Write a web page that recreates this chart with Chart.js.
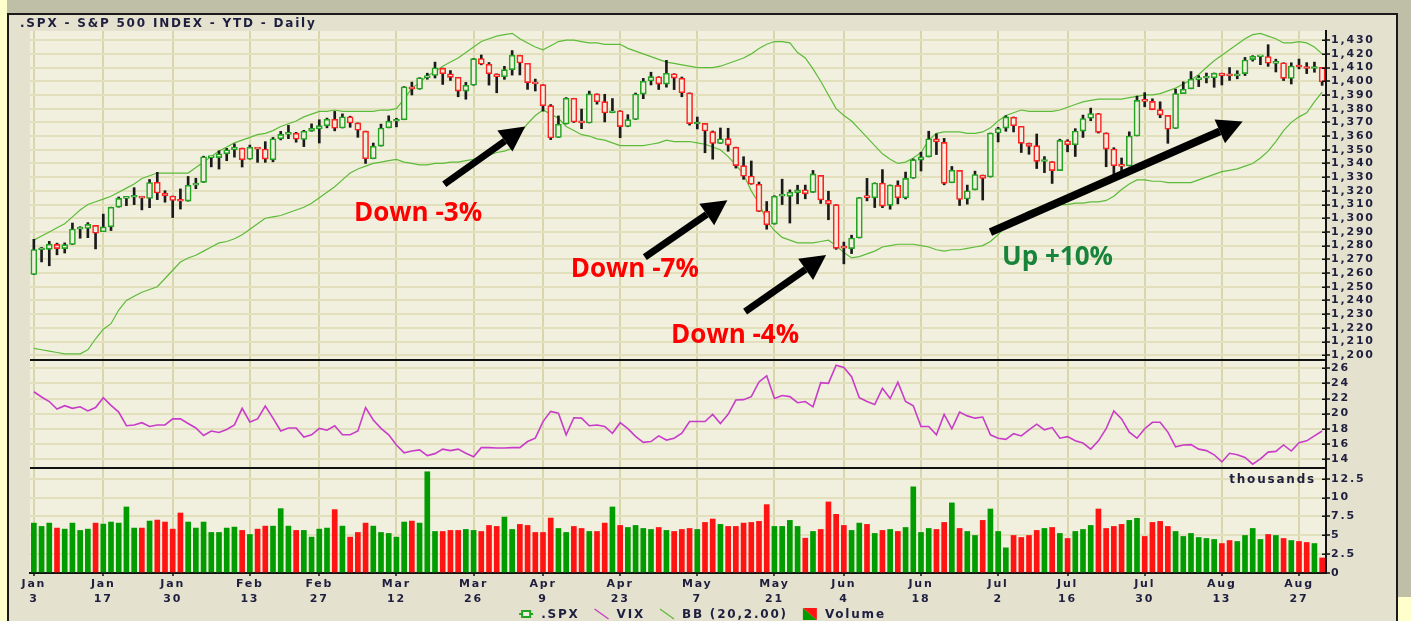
<!DOCTYPE html>
<html>
<head>
<meta charset="utf-8">
<script src="https://cdn.jsdelivr.net/npm/chart.js@4.4.1/dist/chart.umd.min.js"></script>
<style>
  html, body { margin: 0; padding: 0; }
  body { width: 1411px; height: 621px; background: #ffffcc; position: relative; overflow: hidden; }
  #top { position: absolute; left: 7px; top: 0; width: 1404px; height: 597px; background: #bfbea6; }
  #frame { position: absolute; left: 7px; top: 13px; width: 1387px; height: 606px; background: #e4e2cf;
           border: 2px solid #1a1a1a; border-bottom: none; }
  #wrap { position: absolute; left: 0; top: 0; width: 1387px; height: 606px; }
</style>
</head>
<body>
<div id="top"></div>
<div id="frame"><div id="wrap"><canvas id="spx"></canvas></div></div>
<script>
// trading days, Jan 3 - Aug 30
const dates = ['Jan 3','Jan 4','Jan 5','Jan 6','Jan 9','Jan 10','Jan 11','Jan 12','Jan 13','Jan 17','Jan 18','Jan 19','Jan 20','Jan 23','Jan 24','Jan 25','Jan 26','Jan 27','Jan 30','Jan 31',
'Feb 1','Feb 2','Feb 3','Feb 6','Feb 7','Feb 8','Feb 9','Feb 10','Feb 13','Feb 14','Feb 15','Feb 16','Feb 17','Feb 21','Feb 22','Feb 23','Feb 24','Feb 27','Feb 28','Feb 29',
'Mar 1','Mar 2','Mar 5','Mar 6','Mar 7','Mar 8','Mar 9','Mar 12','Mar 13','Mar 14','Mar 15','Mar 16','Mar 19','Mar 20','Mar 21','Mar 22','Mar 23','Mar 26','Mar 27','Mar 28','Mar 29','Mar 30',
'Apr 2','Apr 3','Apr 4','Apr 5','Apr 9','Apr 10','Apr 11','Apr 12','Apr 13','Apr 16','Apr 17','Apr 18','Apr 19','Apr 20','Apr 23','Apr 24','Apr 25','Apr 26','Apr 27','Apr 30',
'May 1','May 2','May 3','May 4','May 7','May 8','May 9','May 10','May 11','May 14','May 15','May 16','May 17','May 18','May 21','May 22','May 23','May 24','May 25','May 29','May 30','May 31',
'Jun 1','Jun 4','Jun 5','Jun 6','Jun 7','Jun 8','Jun 11','Jun 12','Jun 13','Jun 14','Jun 15','Jun 18','Jun 19','Jun 20','Jun 21','Jun 22','Jun 25','Jun 26','Jun 27','Jun 28','Jun 29',
'Jul 2','Jul 3','Jul 5','Jul 6','Jul 9','Jul 10','Jul 11','Jul 12','Jul 13','Jul 16','Jul 17','Jul 18','Jul 19','Jul 20','Jul 23','Jul 24','Jul 25','Jul 26','Jul 27','Jul 30','Jul 31',
'Aug 1','Aug 2','Aug 3','Aug 6','Aug 7','Aug 8','Aug 9','Aug 10','Aug 13','Aug 14','Aug 15','Aug 16','Aug 17','Aug 20','Aug 21','Aug 22','Aug 23','Aug 24','Aug 27','Aug 28','Aug 29','Aug 30'];

const tickDates = ['Jan 3','Jan 17','Jan 30','Feb 13','Feb 27','Mar 12','Mar 26','Apr 9','Apr 23','May 7','May 21','Jun 4','Jun 18','Jul 2','Jul 16','Jul 30','Aug 13','Aug 27'];

const opens = [1258.9,1277.0,1277.3,1280.9,1277.8,1280.8,1292.0,1292.5,1294.8,1290.2,
1293.7,1308.1,1314.5,1315.3,1316.0,1314.4,1326.3,1318.3,1316.2,1313.5,
1312.5,1324.2,1326.2,1344.3,1344.3,1347.0,1350.0,1351.2,1343.1,1351.3,
1350.5,1342.6,1358.1,1361.2,1362.1,1357.5,1363.5,1365.2,1367.6,1372.2,
1365.9,1374.1,1369.6,1363.6,1343.4,1352.7,1366.0,1370.8,1371.9,1396.0,
1394.2,1402.6,1404.2,1409.6,1405.5,1402.9,1392.8,1397.1,1416.6,1412.5,
1405.4,1403.3,1408.5,1419.0,1413.1,1398.8,1397.5,1382.2,1359.0,1368.8,
1387.6,1370.3,1369.6,1390.8,1385.1,1377.0,1378.5,1367.0,1372.1,1390.6,
1400.2,1403.3,1397.9,1405.5,1402.3,1391.5,1368.8,1369.2,1363.2,1354.6,
1358.1,1351.9,1338.4,1330.8,1324.8,1305.1,1295.7,1316.1,1316.0,1318.7,
1320.8,1318.9,1331.3,1313.1,1309.9,1278.3,1277.8,1285.6,1316.2,1315.0,
1325.7,1309.4,1324.0,1314.9,1329.2,1342.4,1344.8,1358.0,1355.4,1325.9,
1334.9,1314.1,1320.7,1331.5,1330.1,1362.3,1365.8,1373.7,1367.1,1354.7,
1353.0,1341.4,1341.3,1334.8,1356.5,1353.7,1363.6,1373.0,1376.5,1362.3,
1350.5,1338.4,1338.2,1360.1,1385.9,1385.3,1379.3,1375.1,1365.5,1391.0,
1394.5,1401.2,1402.3,1402.6,1405.9,1404.4,1403.9,1405.6,1415.8,1417.9,
1418.1,1413.1,1413.5,1402.0,1411.1,1410.4,1409.3,1410.1];

const highs = [1284.6,1278.7,1283.1,1281.8,1282.0,1296.5,1293.8,1296.8,1294.8,1303.0,
1308.1,1315.5,1315.4,1322.3,1316.0,1328.3,1333.5,1320.1,1316.2,1321.4,
1330.5,1329.2,1345.3,1344.4,1349.2,1351.0,1354.3,1351.2,1353.4,1351.3,
1355.9,1359.0,1363.4,1367.8,1362.7,1364.2,1368.9,1371.9,1373.1,1378.0,
1376.2,1374.5,1369.6,1363.6,1354.9,1368.7,1374.8,1373.0,1396.1,1399.4,
1402.6,1405.9,1414.0,1409.6,1407.8,1402.9,1399.2,1416.6,1419.2,1413.7,
1405.4,1410.9,1422.4,1419.0,1413.1,1401.6,1397.5,1383.0,1374.7,1388.1,
1387.6,1379.7,1392.8,1390.8,1390.5,1387.4,1378.5,1375.6,1391.4,1402.1,
1406.6,1403.3,1415.3,1405.5,1403.1,1391.5,1373.9,1369.2,1363.7,1365.9,
1365.7,1351.9,1344.9,1341.8,1326.4,1312.2,1316.4,1328.5,1320.7,1324.1,
1324.2,1334.9,1331.3,1319.7,1309.9,1282.6,1287.6,1315.1,1329.1,1325.8,
1335.5,1324.3,1327.3,1333.7,1343.3,1348.2,1363.5,1361.6,1358.3,1337.8,
1334.9,1324.2,1334.4,1331.5,1362.2,1366.4,1374.8,1373.9,1367.1,1354.9,
1361.5,1345.0,1341.3,1357.7,1357.3,1365.4,1375.3,1380.4,1376.5,1362.3,
1351.5,1344.0,1363.1,1389.2,1391.7,1387.2,1385.0,1375.1,1394.2,1399.6,
1407.1,1404.1,1406.0,1406.0,1405.9,1410.0,1407.7,1417.4,1418.7,1418.1,
1426.7,1416.1,1413.5,1413.5,1416.2,1413.6,1414.0,1410.1];

const lows = [1258.9,1268.1,1265.3,1273.3,1274.6,1280.8,1285.4,1285.8,1277.6,1290.2,
1291.0,1308.1,1309.2,1309.9,1306.1,1307.7,1313.6,1311.7,1300.5,1306.7,
1312.5,1321.6,1326.2,1337.5,1335.9,1342.0,1344.6,1337.4,1343.1,1340.8,
1340.8,1341.2,1357.2,1358.1,1355.5,1352.3,1363.5,1354.9,1366.0,1363.8,
1365.9,1366.4,1359.1,1340.0,1343.4,1352.7,1366.0,1366.7,1371.9,1390.0,
1394.2,1401.5,1402.4,1397.7,1400.6,1388.7,1386.9,1397.1,1412.0,1397.2,
1391.6,1401.4,1404.5,1404.6,1394.1,1392.9,1378.2,1357.4,1359.0,1368.8,
1369.9,1365.4,1369.6,1383.3,1370.3,1377.0,1358.8,1366.8,1372.1,1387.3,
1397.3,1394.0,1395.7,1393.9,1388.7,1368.0,1365.2,1347.8,1343.1,1354.6,
1348.9,1336.6,1328.4,1324.8,1304.9,1292.0,1295.7,1310.0,1296.5,1310.5,
1314.2,1318.9,1310.8,1298.9,1277.3,1266.7,1274.2,1285.6,1312.7,1307.8,
1307.7,1306.6,1310.5,1314.1,1329.2,1334.5,1344.8,1346.5,1324.4,1325.9,
1309.3,1310.3,1320.7,1313.3,1330.1,1355.7,1363.5,1363.0,1348.0,1346.7,
1336.3,1333.3,1325.4,1334.8,1348.5,1345.1,1359.0,1371.2,1362.2,1337.6,
1329.2,1331.5,1338.2,1360.1,1381.4,1379.2,1373.4,1354.7,1365.5,1391.0,
1394.5,1396.1,1398.8,1395.6,1397.3,1400.6,1401.8,1404.2,1414.7,1412.1,
1410.9,1406.8,1400.5,1398.0,1409.1,1405.6,1406.6,1397.0];

const closes = [1277.1,1277.3,1281.1,1277.8,1280.7,1292.1,1292.5,1295.5,1289.1,1293.7,
1308.0,1314.5,1315.4,1316.0,1314.7,1326.1,1318.4,1316.3,1313.0,1312.4,
1324.1,1325.5,1344.9,1344.3,1347.1,1350.0,1352.0,1342.6,1351.8,1350.5,
1343.2,1358.0,1361.2,1362.2,1357.7,1363.5,1365.7,1367.6,1372.2,1365.7,
1374.1,1369.6,1364.3,1343.4,1352.6,1365.9,1370.9,1371.1,1396.0,1394.3,
1402.6,1404.2,1409.8,1405.5,1402.9,1392.8,1397.1,1416.5,1412.5,1405.5,
1403.3,1408.5,1419.0,1413.4,1399.0,1398.1,1382.2,1358.6,1368.7,1387.6,
1370.3,1369.6,1390.8,1385.1,1376.9,1378.5,1366.9,1372.0,1390.7,1400.0,
1403.4,1397.9,1405.8,1402.3,1391.6,1369.1,1369.6,1363.7,1354.6,1358.0,
1353.4,1338.4,1330.7,1324.8,1304.9,1295.2,1316.0,1316.6,1318.9,1320.7,
1317.8,1332.4,1313.3,1310.3,1278.0,1278.2,1285.5,1315.1,1315.0,1325.7,
1308.9,1324.2,1314.9,1329.1,1342.8,1344.8,1358.0,1355.7,1325.5,1335.0,
1313.7,1320.0,1331.9,1329.0,1362.2,1365.5,1374.0,1367.6,1354.7,1352.5,
1341.5,1341.5,1334.8,1356.8,1353.6,1363.7,1372.8,1376.5,1362.7,1350.5,
1338.3,1337.9,1360.0,1386.0,1385.3,1379.3,1375.3,1365.0,1391.0,1394.2,
1401.4,1402.2,1402.8,1405.9,1404.1,1403.9,1405.5,1415.5,1418.2,1418.1,
1413.2,1413.5,1402.1,1411.1,1410.4,1409.3,1410.5,1399.5];

// Bollinger band (20, 2.00) as drawn
const bbUpper = [1284,1287,1290,1293,1296,1301,1306,1310,1312,1314,
1316,1319,1322,1325,1329,1331,1333,1333,1333,1333,
1333,1337,1341,1345,1349,1352,1355,1357,1359,1361,
1362,1364,1367,1369,1371,1374,1376,1378,1378,1379,
1378,1378,1378,1378,1378,1379,1379,1380,1387,1395,
1399,1404,1407,1411,1414,1417,1421,1425,1429,1431,
1433,1434,1435,1431,1428,1425,1423,1426,1429,1430,
1430,1429,1428,1428,1427,1427,1427,1424,1422,1420,
1418,1416,1414,1413,1412,1411,1410,1410,1410,1411,
1413,1415,1417,1420,1424,1427,1429,1429,1428,1421,
1417,1409,1400,1390,1380,1375,1371,1365,1359,1353,
1347,1343,1340,1341,1344,1348,1357,1362,1363,1363,
1363,1362,1362,1363,1366,1371,1375,1377,1379,1378,
1378,1378,1378,1379,1381,1383,1385,1386,1387,1387,
1387,1387,1388,1389,1390,1390,1391,1393,1395,1398,
1401,1405,1410,1415,1419,1423,1427,1431,1434,1435,
1433,1431,1428,1428,1429,1428,1425,1420];

const bbLower = [1205,1204,1203,1202,1201,1201,1201,1204,1212,1219,
1223,1233,1240,1243,1246,1248,1250,1256,1262,1268,
1271,1273,1276,1279,1282,1283,1285,1288,1292,1296,
1300,1301,1302,1304,1306,1308,1311,1315,1319,1323,
1328,1333,1336,1338,1340,1341,1342,1343,1341,1340,
1339,1339,1340,1340,1341,1341,1342,1343,1345,1346,
1348,1349,1351,1362,1369,1375,1379,1376,1373,1367,
1364,1361,1360,1358,1357,1355,1353,1353,1353,1353,
1354,1355,1357,1356,1356,1356,1355,1354,1352,1350,
1345,1339,1332,1320,1311,1298,1291,1286,1284,1282,
1282,1282,1283,1284,1280,1275,1271,1272,1274,1276,
1279,1280,1281,1281,1281,1280,1279,1277,1276,1277,
1277,1278,1279,1280,1283,1288,1294,1298,1302,1305,
1307,1308,1309,1310,1310,1311,1311,1312,1312,1313,
1316,1321,1325,1328,1328,1327,1327,1326,1326,1326,
1326,1328,1330,1332,1334,1335,1336,1338,1340,1344,
1349,1356,1364,1370,1374,1377,1385,1392];

const vix = [22.9,22.2,21.6,20.6,21.05,20.7,20.9,20.35,20.8,22.1,
21.1,20.2,18.4,18.5,18.8,18.3,18.5,18.5,19.3,19.3,
18.7,18.1,17.1,17.7,17.5,17.9,18.5,20.7,18.9,19.3,
21.0,19.4,17.7,18.1,18.1,16.9,17.2,18.05,17.8,18.4,
17.2,17.2,17.7,20.8,19.15,18.05,17.2,15.85,14.8,15.05,
15.2,14.45,14.7,15.3,15.1,15.3,14.75,14.3,15.5,15.5,
15.45,15.45,15.5,15.5,16.3,16.75,18.95,20.3,20.05,17.2,
19.45,19.4,18.4,18.5,18.3,17.4,18.8,18.0,17.0,16.2,
16.3,17.05,16.5,16.75,17.4,18.95,18.95,18.95,19.9,18.7,
19.9,21.8,21.85,22.25,24.2,25.0,22.0,22.4,22.25,21.45,
21.6,20.9,24.1,24.0,26.4,26.1,24.9,22.1,21.6,21.2,
23.35,22.0,24.15,21.6,21.05,18.3,18.3,17.2,19.9,18.0,
20.2,19.7,19.4,19.55,17.2,16.75,16.6,17.35,17.05,17.85,
18.6,17.85,18.15,16.75,16.95,16.4,16.1,15.3,16.4,18.0,
20.35,19.3,17.55,16.75,18.0,18.85,18.85,17.55,15.6,15.85,
15.9,15.3,15.1,14.55,13.6,14.75,14.55,14.2,13.3,14.0,
14.9,15.0,15.85,15.05,16.15,16.4,17.05,17.7];

// volume, thousands
const volume = [6.62,6.18,6.62,5.96,5.82,6.62,5.65,5.82,6.62,6.49,
6.76,6.62,8.76,5.96,5.96,6.89,7.02,6.76,5.82,7.96,
6.76,5.96,6.76,5.38,5.38,5.96,6.09,5.65,5.11,5.82,
6.22,6.22,8.54,6.22,5.65,5.65,4.76,5.82,5.96,8.41,
6.22,4.76,5.38,6.62,6.22,5.38,5.25,4.76,6.76,6.89,
6.62,13.43,5.51,5.51,5.65,5.65,5.78,5.65,5.51,6.31,
6.18,7.42,5.78,6.45,6.31,5.38,5.38,7.29,5.91,5.38,
6.18,5.91,5.51,5.51,6.62,8.76,6.31,6.04,6.31,5.91,
5.78,6.04,5.65,5.51,5.78,5.91,5.78,6.71,7.16,6.45,
6.18,6.18,6.62,6.71,6.85,9.07,6.18,6.18,6.98,6.18,
4.62,5.51,5.78,9.43,7.78,6.31,5.65,6.62,6.45,5.25,
5.65,5.78,5.51,6.04,11.43,5.38,5.91,5.78,6.71,9.3,
5.91,5.51,4.98,6.98,8.49,5.51,3.34,4.98,4.71,4.98,
5.65,5.91,6.04,5.25,4.58,5.51,5.78,6.31,8.49,5.91,
6.18,6.45,6.98,7.25,4.85,6.71,6.85,6.18,5.51,4.85,
5.25,4.71,4.58,4.45,3.91,4.31,4.18,4.98,5.91,4.45,
5.11,4.98,4.58,4.31,4.18,4.05,3.91,2.0];

// annotations: [index, price]
const arrowFrom = [[53.2, 1324.8], [79.2, 1271.6], [92.2, 1231.8], [124.0, 1289.8]];
const arrowTo   = [[63.7, 1367.0], [89.9, 1313.1], [102.7, 1273.1], [156.7, 1370.7]];
const noteText  = ['Down -3%', 'Down -7%', 'Down -4%', 'Up +10%'];
const noteAt    = [[49.8, 1297.8], [77.9, 1256.8], [90.9, 1209.2], [132.7, 1265.8]];
const noteColor = ['#ff0000', '#ff0000', '#ff0000', '#17843a'];

const PLOT_BG = '#f1f0de';
const GRID_H = '#e2e0bc';
const GRID_V = '#d9d7aa';
const INK = '#1e1e3e';
const UP = '#22a322';
const DOWN = '#ff2222';
const BB = '#5dbb3a';
const VIXC = '#c83cc8';
const FONT = 'DejaVu Sans';

const tickSet = new Set(tickDates.map(d => dates.indexOf(d)));
const candleColor = closes.map((c, i) => c >= opens[i] ? UP : DOWN);
const volColor = closes.map((c, i) => c >= opens[i] ? '#009c00' : '#ff1414');
const tickFont = { family: FONT, size: 11, weight: 'bold' };

function yAxis(weight, stackWeight, min, max, step, fmt) {
  return {
    type: 'linear', position: 'right', stack: 'panes', weight, stackWeight, min, max,
    border: { color: '#111', width: 2 },
    grid: { color: GRID_H, lineWidth: 2, tickLength: 4, tickColor: '#111', tickWidth: 1.5 },
    ticks: { stepSize: step, includeBounds: false, autoSkip: false, padding: 1, color: INK, font: tickFont, callback: fmt },
    afterFit(s) { s.width = 62; }
  };
}

function drawArrow(ctx, x1, y1, x2, y2, w) {
  const a = Math.atan2(y2 - y1, x2 - x1);
  const hl = 25, hw = 13;
  const bx = x2 - hl * Math.cos(a), by = y2 - hl * Math.sin(a);
  ctx.strokeStyle = '#000';
  ctx.lineWidth = w;
  ctx.beginPath(); ctx.moveTo(x1, y1); ctx.lineTo(bx, by); ctx.stroke();
  ctx.fillStyle = '#000';
  ctx.beginPath();
  ctx.moveTo(x2, y2);
  ctx.lineTo(bx + hw * Math.sin(a), by - hw * Math.cos(a));
  ctx.lineTo(bx - hw * Math.sin(a), by + hw * Math.cos(a));
  ctx.closePath(); ctx.fill();
}

const decor = {
  id: 'decor',
  beforeDraw(chart) {
    const { ctx, chartArea: a } = chart;
    ctx.save();
    ctx.fillStyle = PLOT_BG;
    ctx.fillRect(a.left, a.top, a.right - a.left, a.bottom - a.top);
    ctx.restore();
    ctx.letterSpacing = '1.8px';
  },
  afterDatasetsDraw(chart) {
    const { ctx, chartArea: a, scales } = chart;
    ctx.save();
    ctx.strokeStyle = '#111';
    ctx.lineWidth = 2;
    [scales.vix.top, scales.vol.top].forEach(y => {
      ctx.beginPath(); ctx.moveTo(a.left, y); ctx.lineTo(a.right, y); ctx.stroke();
    });
    // inner half of the "+" tick marks on the right axes
    ctx.lineWidth = 1.5;
    ['price', 'vix', 'vol'].forEach(id => {
      const s = scales[id];
      s.ticks.forEach(t => {
        const y = Math.round(s.getPixelForValue(t.value)) + 0.25;
        ctx.beginPath(); ctx.moveTo(s.left - 4, y); ctx.lineTo(s.left, y); ctx.stroke();
      });
    });
    ctx.restore();
  },
  afterDraw(chart) {
    const { ctx, chartArea: a, scales } = chart;
    const x = scales.x, p = scales.price;
    ctx.save();
    ctx.letterSpacing = '1.8px';
    ctx.fillStyle = INK;
    ctx.font = `bold 12px "${FONT}"`;
    ctx.textBaseline = 'alphabetic';
    ctx.textAlign = 'left';
    ctx.fillText('.SPX - S&P 500 INDEX - YTD - Daily', 11, 12);

    ctx.textAlign = 'right';
    ctx.textBaseline = 'middle';
    ctx.fillText('thousands', a.right - 10, scales.vol.getPixelForValue(12.5) + 1);

    // legend
    const items = [['candle', '.SPX'], ['line', 'VIX', VIXC], ['line', 'BB (20,2.00)', BB], ['vol', 'Volume']];
    const iw = 14, g1 = 8, g2 = 15;
    let total = 0;
    items.forEach((it, i) => { total += iw + g1 + ctx.measureText(it[1]).width + (i < items.length - 1 ? g2 : 0); });
    let lx = chart.width / 2 - total / 2;
    const ly = 599;
    ctx.textAlign = 'left';
    items.forEach(it => {
      if (it[0] === 'candle') {
        ctx.strokeStyle = UP; ctx.lineWidth = 2;
        ctx.beginPath(); ctx.moveTo(lx, ly); ctx.lineTo(lx + iw, ly); ctx.stroke();
        ctx.fillStyle = PLOT_BG;
        ctx.fillRect(lx + 3, ly - 3, 8, 6);
        ctx.strokeRect(lx + 3, ly - 3, 8, 6);
      } else if (it[0] === 'line') {
        ctx.strokeStyle = it[2]; ctx.lineWidth = 1.3;
        ctx.beginPath(); ctx.moveTo(lx, ly - 5); ctx.lineTo(lx + iw, ly + 5); ctx.stroke();
      } else {
        ctx.fillStyle = '#009c00';
        ctx.beginPath(); ctx.moveTo(lx, ly - 6); ctx.lineTo(lx, ly + 6); ctx.lineTo(lx + iw, ly + 6); ctx.closePath(); ctx.fill();
        ctx.fillStyle = '#ff1414';
        ctx.beginPath(); ctx.moveTo(lx, ly - 6); ctx.lineTo(lx + iw, ly - 6); ctx.lineTo(lx + iw, ly + 6); ctx.closePath(); ctx.fill();
      }
      lx += iw + g1;
      ctx.fillStyle = INK;
      ctx.fillText(it[1], lx, ly + 1);
      lx += ctx.measureText(it[1]).width + g2;
    });

    // annotations
    ctx.letterSpacing = '0px';
    ctx.lineCap = 'butt';
    arrowFrom.forEach((f, i) => {
      const t = arrowTo[i];
      drawArrow(ctx, x.getPixelForValue(f[0]), p.getPixelForValue(f[1]),
                x.getPixelForValue(t[0]), p.getPixelForValue(t[1]), i === 3 ? 8 : 7);
    });
    ctx.font = 'bold 26px "Open Sans"';
    ctx.textAlign = 'center';
    ctx.textBaseline = 'alphabetic';
    noteText.forEach((s, i) => {
      ctx.fillStyle = noteColor[i];
      ctx.fillText(s, x.getPixelForValue(noteAt[i][0]), p.getPixelForValue(noteAt[i][1]));
    });
    ctx.restore();
  }
};

new Chart(document.getElementById('spx'), {
  type: 'bar',
  data: {
    labels: dates,
    datasets: [
      { type: 'bar', label: '.SPX', data: opens.map((o, i) => [o, closes[i]]), yAxisID: 'price',
        backgroundColor: PLOT_BG, borderColor: candleColor, borderWidth: 1.6, borderSkipped: false,
        barThickness: 6, minBarLength: 2, grouped: false, order: 1 },
      { type: 'bar', label: 'range', data: lows.map((l, i) => [l, highs[i]]), yAxisID: 'price',
        backgroundColor: '#1a1a1a', barThickness: 2, grouped: false, order: 2 },
      { type: 'line', label: 'BB upper', data: bbUpper, yAxisID: 'price', borderColor: BB, borderWidth: 1.2,
        pointRadius: 0, tension: 0, fill: false, order: 3 },
      { type: 'line', label: 'BB lower', data: bbLower, yAxisID: 'price', borderColor: BB, borderWidth: 1.2,
        pointRadius: 0, tension: 0, fill: false, order: 3 },
      { type: 'line', label: 'VIX', data: vix, yAxisID: 'vix', borderColor: VIXC, borderWidth: 1.6,
        pointRadius: 0, tension: 0, fill: false, order: 0 },
      { type: 'bar', label: 'Volume', data: volume, yAxisID: 'vol', backgroundColor: volColor,
        barThickness: 5, grouped: false, order: 0 }
    ]
  },
  options: {
    responsive: true,
    maintainAspectRatio: false,
    animation: false,
    events: [],
    layout: { padding: { left: 21, top: 16, right: 8, bottom: 14 } },
    plugins: { legend: { display: false }, tooltip: { enabled: false } },
    scales: {
      x: {
        type: 'category', offset: true,
        border: { color: '#111', width: 2 },
        grid: {
          offset: false, lineWidth: 2, tickLength: 3, tickWidth: 1.5,
          color: c => tickSet.has(c.index) ? GRID_V : 'rgba(0,0,0,0)',
          tickColor: c => tickSet.has(c.index) ? '#111' : 'rgba(0,0,0,0)'
        },
        ticks: {
          autoSkip: false, maxRotation: 0, minRotation: 0, padding: 1, color: INK,
          font: { family: FONT, size: 11, weight: 'bold', lineHeight: 1.36 },
          callback: (v, i) => tickSet.has(i) ? dates[i].split(' ') : ''
        },
        afterFit(s) { s.height = 34; }
      },
      price: yAxis(0, 329, 1196.5, 1436.7, 10, v => v.toLocaleString('en-US')),
      vix: yAxis(1, 108, 12.8, 27.1, 2, v => String(v)),
      vol: yAxis(2, 105, 0, 13.93, 2.5, v => String(v))
    }
  },
  plugins: [decor]
});
</script>
</body>
</html>
